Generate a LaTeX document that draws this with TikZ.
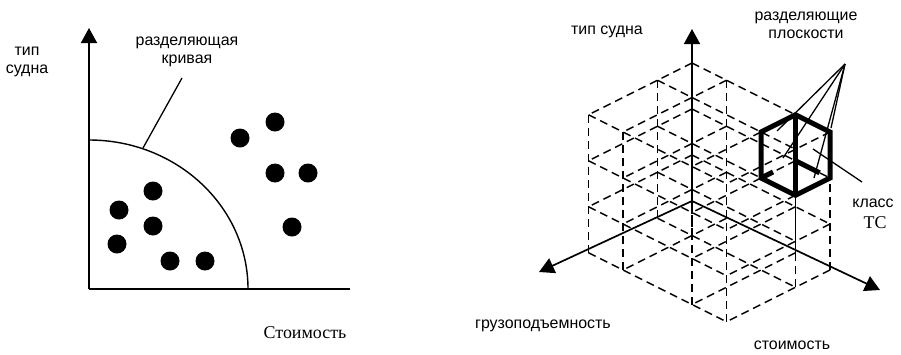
\documentclass[tikz,border=0pt]{standalone}
\usepackage{fontspec}
\setmainfont{Liberation Serif}
\setsansfont{Liberation Sans}
\usetikzlibrary{arrows.meta,calc}
\begin{document}
\begin{tikzpicture}[x=1bp,y=-1bp,
  lbl/.style={font=\sffamily\fontsize{16}{18}\selectfont, inner sep=0pt, align=center},
  slbl/.style={font=\rmfamily\fontsize{18}{20}\selectfont, inner sep=0pt},
  axisline/.style={line width=1.7bp, -{Triangle[length=15bp,width=16bp]}},
  plainaxis/.style={line width=1.7bp},
  gridline/.style={line width=1.5bp, dash pattern=on 8bp off 5bp},
  thickedge/.style={line width=5bp, line join=miter, line cap=butt},
  blob/.style={circle, fill=black, minimum size=19bp, inner sep=0pt},
  leader/.style={line width=1.3bp}]
\useasboundingbox (0,0) rectangle (901,354);

% ---------------- left figure ----------------
\coordinate (LO) at (89,289);
\coordinate (LY) at (89,28);
\coordinate (LX) at (350,289);
\coordinate (LC) at (89,140);
\draw[axisline] (LO) -- (LY);
\draw[plainaxis] (LO) -- (LX);
\draw[line width=1.4bp] (LC) arc[start angle=-90, end angle=0, x radius=159, y radius=149];
\coordinate (Lk1) at (182,78);
\coordinate (Lk2) at (143,148);
\draw[leader] (Lk1) -- (Lk2);

\node[blob] (d1) at (119,210) {};
\node[blob] (d2) at (153,191) {};
\node[blob] (d3) at (153,226) {};
\node[blob] (d4) at (117,244) {};
\node[blob] (d5) at (170,261) {};
\node[blob] (d6) at (205,261) {};
\node[blob] (d7) at (240,138) {};
\node[blob] (d8) at (275,122) {};
\node[blob] (d9) at (275,173) {};
\node[blob] (d10) at (308,173) {};
\node[blob] (d11) at (292,227) {};

\node[lbl] (tl1) at (27,62) {тип\\судна};
\node[lbl] (tl2) at (187,52) {разделяющая\\кривая};
\node[slbl] (tl3) at (305,333) {Стоимость};

% ---------------- right figure ----------------
\begin{scope}[shift={(692,201)}, x={(34.5bp,-17.25bp)}, y={(-34.5bp,-17.25bp)}, z={(0bp,46bp)}]
  \foreach \a in {0,1,3,4}
    \foreach \b in {0,1,3}
      \foreach \c in {0,1,2,3}
        \coordinate (p\a\b\c) at (\a,\b,\c);
  % vertical lines
  \foreach \q in {01,03,10,11,13,30,33,40,41,43}
    \draw[gridline] (p\q0) -- (p\q3);
  % lines along x
  \foreach \q in {01,02,03,10,11,12,13,30,31,32,33}
    \draw[gridline] (p0\q) -- (p4\q);
  % lines along y
  \foreach \a/\c in {0/1,0/2,0/3,1/0,1/1,1/2,1/3,3/0,3/1,3/2,3/3,4/0,4/1,4/2,4/3}
    \draw[gridline] (p\a0\c) -- (p\a3\c);
  % highlighted cell
  \draw[thickedge] (p303) -- (p403) -- (p402) -- (p412) -- (p312) -- (p313) -- cycle;
  \draw[thickedge] (p303) -- (p302);
  \draw[thickedge] (p413) -- (p412);
  \draw[thickedge] (p302) -- ($(p302)!0.7!(p402)$);
  \draw[thickedge] (p312) -- ($(p312)!0.35!(p302)$);
\end{scope}

\coordinate (RO) at (692,201);
\coordinate (RZ) at (692,29);
\coordinate (RX) at (880,290);
\coordinate (RY) at (539,272);
\draw[axisline] (RO) -- (RZ);
\draw[axisline] (RO) -- (RX);
\draw[axisline] (RO) -- (RY);

\coordinate (RA) at (845,64);
\coordinate (e1) at (777,131);
\coordinate (e2) at (783,158);
\coordinate (e3) at (814,178);
\coordinate (e4) at (831,128);
\foreach \e in {e1,e2,e3,e4} \draw[leader] (RA) -- (\e);
\coordinate (k1) at (813,149);
\coordinate (k2) at (862,182);
\draw[leader] (k1) -- (k2);

\node[lbl] (tr1) at (607,32) {тип судна};
\node[lbl] (tr2) at (806,25) {разделяющие\\плоскости};
\node[lbl] (tr3) at (543,326) {грузоподъемность};
\node[lbl] (tr4) at (792,345) {стоимость};
\node[lbl] (tr5) at (873,203) {класс};
\node[slbl] (tr6) at (875,223) {ТС};
\end{tikzpicture}
\end{document}
